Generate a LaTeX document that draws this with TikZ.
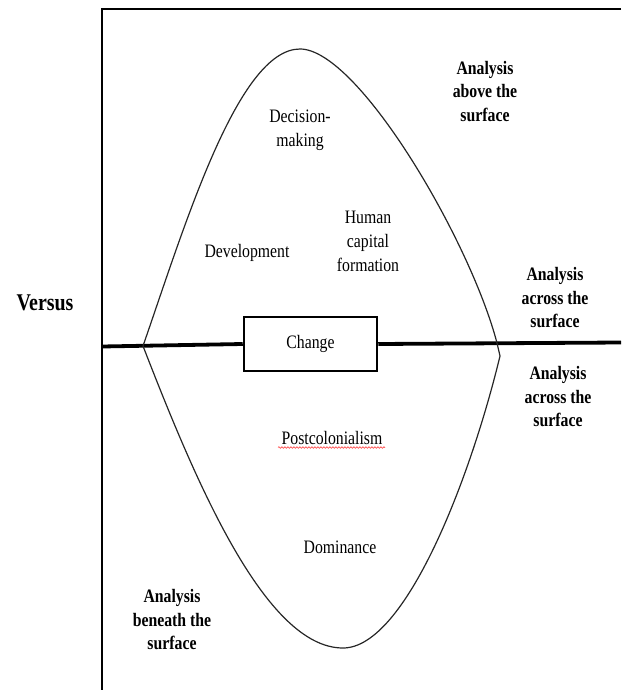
\documentclass[tikz,border=0pt]{standalone}
\usepackage{fontspec}
\setmainfont{Liberation Serif}[FakeStretch=0.83]
\usetikzlibrary{decorations.pathmorphing}
\tikzset{
  lbl/.style={align=center, inner sep=0pt, font=\fontsize{19}{24}\selectfont},
  blbl/.style={align=center, inner sep=0pt, font=\fontsize{19}{23.5}\selectfont\bfseries},
  lens/.style={draw=black!85, line width=1.2pt},
  frame/.style={draw=black, line width=2.3pt},
  axis/.style={draw=black, line width=3.8pt},
  boxn/.style={draw=black, line width=2.5pt, minimum width=133pt, minimum height=54pt, inner sep=0pt, font=\fontsize{19}{24}\selectfont},
  spell/.style={draw=red!80, line width=0.6pt, decorate, decoration={snake, amplitude=0.8pt, segment length=3pt}}
}
\begin{document}
\begin{tikzpicture}[x=1pt,y=-1pt]
\useasboundingbox (0,0) rectangle (621,690);
% frame
\coordinate (ftl) at (102,9);
\coordinate (ftr) at (621,9);
\coordinate (fbl) at (102,690);
\draw[frame] (ftr) -- (ftl) -- (fbl);
% change box and axis
\node[boxn] (chg) at (310.5,344) {Change};
\coordinate (hl) at (102,346.5);
\coordinate (hr) at (621,342.5);
\draw[axis] (hl) -- (chg.west);
\draw[axis] (chg.east) -- (hr);
% lens
\coordinate (L) at (143,346);
\coordinate (T) at (300,49);
\coordinate (R) at (497,343);
\coordinate (R2) at (500,356);
\coordinate (B) at (343,648);
\draw[lens] (L) .. controls (185,225) and (238,49) .. (T)
  .. controls (358,49) and (470,240) .. (R);
\draw[lens] (L) .. controls (195,480) and (265,648) .. (B)
  .. controls (405,648) and (470,480) .. (R2) -- (R);
% labels inside
\node[lbl] (dm) at (300,130.5) {Decision-\\making};
\node[lbl] (dev) at (247,253) {Development};
\node[lbl] (hcf) at (368,241) {Human\\capital\\formation};
\node[lbl] (pc) at (332,438) {Postcolonialism};
\coordinate (pcl) at (278,447.5);
\coordinate (pcr) at (385,447.5);
\draw[spell] (pcl) -- (pcr);
\node[lbl] (dom) at (340,547) {Dominance};
% outside labels
\node[blbl] (above) at (485,91.5) {Analysis\\above the\\surface};
\node[blbl] (acr1) at (555,298) {Analysis\\across the\\surface};
\node[blbl] (acr2) at (558,397) {Analysis\\across the\\surface};
\node[blbl] (bene) at (172,620) {Analysis\\beneath the\\surface};
\node[inner sep=0pt, font=\fontsize{24}{28}\selectfont\bfseries] (vs) at (45,303) {Versus};
\end{tikzpicture}
\end{document}
